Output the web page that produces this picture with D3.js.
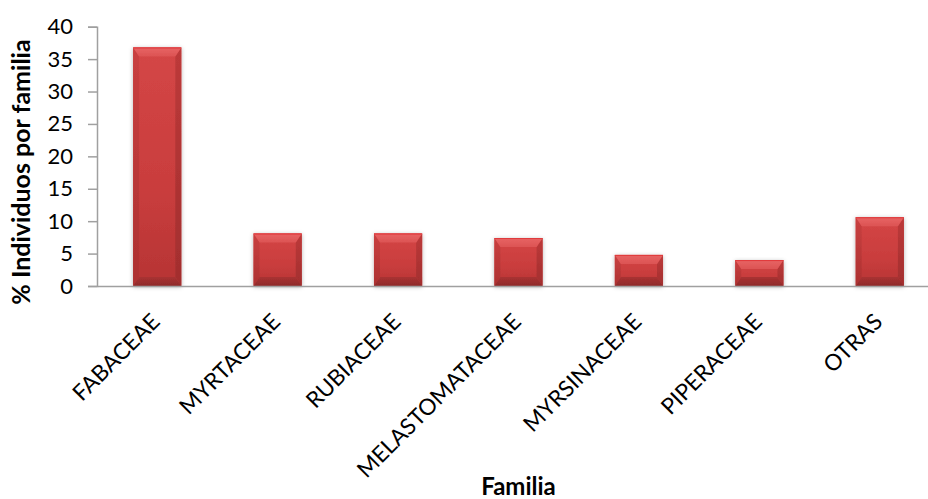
<!DOCTYPE html>
<html>
<head>
<meta charset="utf-8">
<script src="https://cdn.jsdelivr.net/npm/d3@7"></script>
<style>
  html, body { margin: 0; padding: 0; background: #ffffff; }
  svg { display: block; }
  text { font-family: Lato, "Open Sans", sans-serif; fill: #000; }
</style>
</head>
<body>
<svg id="chart" width="928" height="499"></svg>
<script>
// Share of individuals per plant family (%)
const familias = ["FABACEAE", "MYRTACEAE", "RUBIACEAE", "MELASTOMATACEAE", "MYRSINACEAE", "PIPERACEAE", "OTRAS"];
const porcentajes = [36.8, 8.1, 8.1, 7.4, 4.8, 4.0, 10.6];
const yTicks = [0, 5, 10, 15, 20, 25, 30, 35, 40];

const svg = d3.select("#chart");
const plot = { left: 97, right: 940, top: 26.7, bottom: 286 };

const x = d3.scaleBand()
  .domain(familias)
  .range([plot.left, plot.right])
  .paddingInner(0.6)
  .paddingOuter(0.3);

const y = d3.scaleLinear()
  .domain([0, 40])
  .range([plot.bottom, plot.top]);

// Gradients and shadow for the bevelled bars
const defs = svg.append("defs");
const grad = (id, stops) => {
  const g = defs.append("linearGradient").attr("id", id)
    .attr("x1", 0).attr("y1", 0).attr("x2", 0).attr("y2", 1);
  stops.forEach(([o, c]) => g.append("stop").attr("offset", o).attr("stop-color", c));
};
grad("face", [[0, "#d44646"], [0.6, "#c93d3d"], [1, "#b63434"]]);
grad("topBevel", [[0, "#e34a4c"], [0.15, "#e66161"], [1, "#dc5454"]]);
grad("sideL", [[0, "#c94040"], [1, "#ad3131"]]);
grad("sideR", [[0, "#bd3a3a"], [1, "#a22e2e"]]);
grad("botBevel", [[0, "#a93131"], [1, "#8e2b2b"]]);

const shadow = defs.append("filter").attr("id", "shadow")
  .attr("x", "-30%").attr("y", "-10%").attr("width", "160%").attr("height", "130%");
shadow.append("feDropShadow")
  .attr("dx", 0).attr("dy", 1).attr("stdDeviation", 2)
  .attr("flood-color", "#000").attr("flood-opacity", 0.28);

// Y axis
const yAxis = d3.axisLeft(y).tickValues(yTicks).tickSize(9).tickPadding(15);
const gy = svg.append("g").attr("transform", `translate(${plot.left},0)`).call(yAxis);
gy.select(".domain").attr("stroke", "#a0a0a0").attr("stroke-width", 1.5);
gy.selectAll(".tick line").attr("stroke", "#a0a0a0").attr("stroke-width", 1.5);
gy.selectAll(".tick text").attr("font-size", 22).attr("font-family", "Lato, sans-serif").attr("fill", "#000");

// Bars
const bars = svg.append("g").selectAll("g.bar")
  .data(familias.map((f, i) => ({ f, v: porcentajes[i] })))
  .join("g").attr("class", "bar").attr("filter", "url(#shadow)");

bars.each(function (d) {
  const g = d3.select(this);
  const x0 = x(d.f), x1 = x0 + x.bandwidth();
  const y0 = y(d.v), y1 = y(0);
  const h = y1 - y0, w = x1 - x0;
  const bt = Math.min(9, h / 2), bs = Math.min(6, w / 2);
  const poly = pts => pts.map(p => p.join(",")).join(" ");
  g.append("rect").attr("x", x0).attr("y", y0).attr("width", w).attr("height", h).attr("fill", "url(#face)");
  g.append("polygon").attr("fill", "url(#sideL)")
    .attr("points", poly([[x0, y0], [x0 + bs, y0 + bt], [x0 + bs, y1 - bt], [x0, y1]]));
  g.append("polygon").attr("fill", "url(#sideR)")
    .attr("points", poly([[x1, y0], [x1 - bs, y0 + bt], [x1 - bs, y1 - bt], [x1, y1]]));
  g.append("polygon").attr("fill", "url(#topBevel)")
    .attr("points", poly([[x0, y0], [x1, y0], [x1 - bs, y0 + bt], [x0 + bs, y0 + bt]]));
  g.append("polygon").attr("fill", "url(#botBevel)")
    .attr("points", poly([[x0, y1], [x1, y1], [x1 - bs, y1 - bt], [x0 + bs, y1 - bt]]));
  g.append("line").attr("x1", x0).attr("x2", x1).attr("y1", y0 + 0.5).attr("y2", y0 + 0.5)
    .attr("stroke", "#e03a3c").attr("stroke-width", 1);
});

// X axis line
const xAxis = d3.axisBottom(x).tickSize(0).tickFormat("");
const gx = svg.append("g").attr("transform", `translate(0,${plot.bottom})`).call(xAxis);
gx.select(".domain").attr("stroke", "#a0a0a0").attr("stroke-width", 1.5);

// Rotated category labels
svg.append("g").selectAll("text")
  .data(familias)
  .join("text")
  .attr("transform", d => `translate(${x(d) + x.bandwidth() / 2 + 4},${plot.bottom + 37}) rotate(-45)`)
  .attr("text-anchor", "end")
  .attr("font-size", 22.5)
  .text(d => d);

// Axis titles
svg.append("text")
  .attr("transform", `translate(30,172) rotate(-90)`)
  .attr("text-anchor", "middle")
  .attr("font-size", 25)
  .attr("font-weight", "bold")
  .text("% Individuos por familia");

svg.append("text")
  .attr("x", (plot.left + plot.right) / 2)
  .attr("y", 495)
  .attr("text-anchor", "middle")
  .attr("font-size", 24)
  .attr("font-weight", "bold")
  .text("Familia");
</script>
</body>
</html>
